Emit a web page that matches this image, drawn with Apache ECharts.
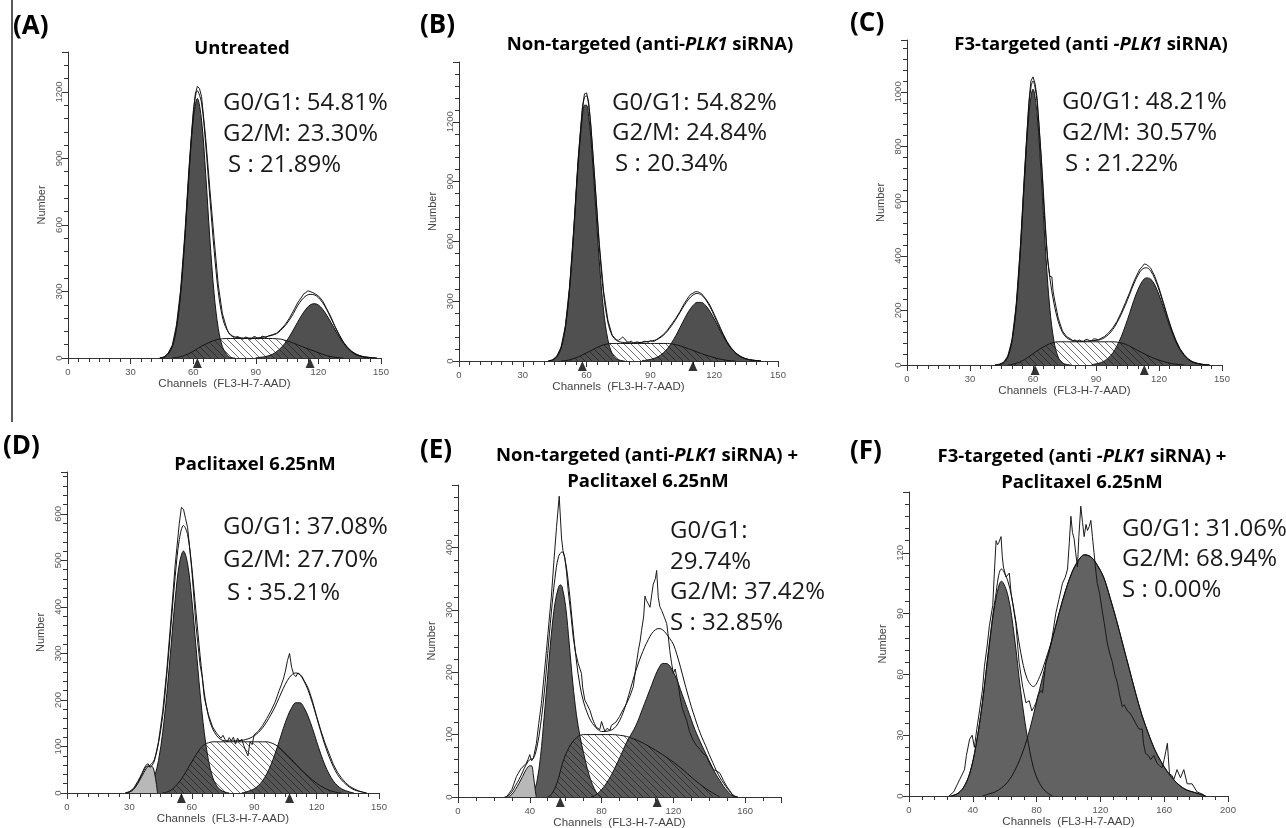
<!DOCTYPE html>
<html><head><meta charset="utf-8">
<script src="https://cdn.jsdelivr.net/npm/echarts@6/dist/echarts.min.js"></script>
<style>html,body{margin:0;padding:0;background:#fff}#c{width:1286px;height:828px}</style>
</head><body><div id="c"></div>
<script>
// ---------------- DATA (channel, count) ----------------
const A_g1 = [[44,0],[46,2],[48,17],[50,51],[52,134],[54,292],[56,536],[58,827],[60,1073],[62,1170],[64,1073],[66,827],[68,536],[70,292],[72,134],[74,51],[76,17],[78,2],[80,0]];
const A_g2 = [[90,1],[92,3],[94,5],[96,10],[98,17],[100,29],[102,45],[104,67],[106,95],[108,127],[110,161],[112,193],[114,220],[116,239],[118,245],[120,239],[122,220],[124,193],[126,161],[128,127],[130,95],[132,67],[134,45],[136,29],[138,17],[140,10],[142,5],[144,3],[146,1],[148,0]];
const A_s = [[50,0],[52,2],[54,6],[56,12],[58,20],[60,30],[62,42],[64,53],[66,63],[68,72],[70,79],[72,84],[74,87],[76,88],[80,88],[84,88],[88,88],[92,88],[96,88],[100,87],[102,85],[104,80],[106,74],[108,67],[110,60],[112,52],[114,45],[116,38],[118,31],[120,24],[122,17],[124,11],[126,6],[128,3],[130,1],[132,0]];
const A_fit = [[44,0],[46,5],[48,20],[50,55],[52,140],[54,300],[56,545],[58,840],[60,1090],[62,1205],[64,1150],[66,960],[68,720],[70,490],[72,300],[74,185],[76,130],[78,105],[80,95],[84,90],[88,90],[92,92],[96,98],[100,110],[102,125],[104,145],[106,170],[108,200],[110,235],[112,262],[114,280],[116,287],[118,285],[120,272],[122,250],[124,218],[126,180],[128,140],[130,102],[132,70],[134,45],[136,27],[138,15],[140,8],[142,4],[144,2],[146,0]];
const A_raw = [[44,0],[46,4],[48,22],[50,58],[52,150],[54,310],[56,560],[58,860],[60,1110],[61,1190],[62,1225],[63,1215],[64,1180],[66,990],[68,760],[70,540],[72,330],[74,200],[76,135],[77,112],[78,102],[79,96],[80,88],[81,97],[82,94],[83,88],[84,85],[85,95],[86,92],[87,84],[88,86],[89,97],[90,95],[91,86],[92,88],[93,99],[94,96],[95,92],[96,100],[98,105],[100,112],[102,130],[104,150],[106,178],[108,212],[110,248],[112,275],[113,290],[114,295],[115,303],[116,300],[117,296],[118,292],[120,280],[122,258],[124,222],[126,185],[128,142],[130,105],[132,72],[134,48],[136,30],[138,18],[140,10],[142,5],[144,3],[146,1],[148,0]];
const A_marks = [62, 116];
const A_stats = ['G0/G1: 54.81%', 'G2/M: 23.30%', 'S : 21.89%'];

const B_g1 = [[42,0],[44,5],[46,21],[48,65],[50,168],[52,361],[54,651],[56,978],[58,1226],[59,1283],[60,1283],[61,1226],[62,1120],[64,816],[66,496],[68,252],[70,107],[72,38],[74,11],[76,3],[78,0]];
const B_g2 = [[86,2],[88,4],[90,8],[92,14],[94,24],[96,40],[98,62],[100,92],[102,128],[104,169],[106,211],[108,249],[110,278],[112,294],[114,294],[116,278],[118,249],[120,211],[122,169],[124,128],[126,92],[128,62],[130,40],[132,24],[134,14],[136,8],[138,4],[140,2],[142,0]];
const B_s = [[48,0],[50,2],[52,6],[54,12],[56,20],[58,30],[60,41],[62,52],[64,63],[66,73],[68,81],[70,86],[72,88],[76,88],[80,88],[84,88],[88,88],[92,88],[96,88],[98,88],[100,86],[102,82],[104,76],[106,69],[108,61],[110,53],[112,45],[114,37],[116,30],[118,23],[120,17],[122,11],[124,7],[126,3],[128,1],[130,0]];
const B_fit = [[42,0],[44,5],[46,22],[48,67],[50,170],[52,367],[54,663],[56,998],[58,1256],[59,1322],[60,1330],[61,1280],[62,1172],[64,880],[66,570],[68,335],[70,195],[72,128],[74,103],[76,95],[78,92],[82,91],[86,94],[90,100],[92,104],[94,113],[96,128],[98,150],[100,178],[102,210],[104,245],[106,280],[108,310],[110,331],[112,339],[114,331],[116,308],[118,272],[120,228],[122,180],[124,135],[126,95],[128,63],[130,41],[132,25],[134,14],[136,8],[138,4],[140,2],[142,0]];
const B_raw = [[42,0],[44,6],[46,25],[48,70],[50,175],[52,375],[54,670],[56,1010],[58,1270],[59,1340],[60,1345],[61,1295],[62,1185],[64,890],[66,585],[68,350],[70,205],[72,130],[74,106],[75,104],[76,112],[77,120],[78,110],[79,96],[80,95],[81,100],[82,90],[83,94],[84,96],[85,91],[86,92],[87,99],[88,98],[89,94],[90,102],[91,98],[92,100],[93,108],[94,116],[96,132],[98,155],[100,185],[102,215],[104,250],[106,290],[108,322],[109,335],[110,340],[111,347],[112,348],[113,344],[114,338],[116,312],[118,280],[120,235],[122,188],[124,140],[126,98],[128,66],[130,42],[132,26],[134,15],[136,8],[138,4],[140,2],[142,0]];
const B_marks = [58, 110];
const B_stats = ['G0/G1: 54.82%', 'G2/M: 24.84%', 'S : 20.34%'];

const C_g1 = [[42,0],[44,2],[46,8],[48,29],[50,86],[52,208],[54,415],[56,681],[58,915],[60,1010],[62,915],[64,681],[66,415],[68,208],[70,86],[72,29],[74,8],[76,2],[78,0]];
const C_g2 = [[88,2],[90,4],[92,8],[94,15],[96,27],[98,44],[100,70],[102,103],[104,144],[106,189],[108,236],[110,276],[112,306],[114,319],[116,315],[118,293],[120,257],[122,213],[124,166],[126,123],[128,85],[130,56],[132,35],[134,20],[136,11],[138,6],[140,3],[142,1],[144,0]];
const C_s = [[48,0],[50,2],[52,6],[54,12],[56,20],[58,30],[60,41],[62,52],[64,62],[66,71],[68,78],[70,83],[72,85],[76,85],[80,85],[84,85],[88,85],[92,85],[96,85],[98,85],[100,84],[102,81],[104,76],[106,69],[108,61],[110,53],[112,45],[114,37],[116,30],[118,23],[120,18],[122,13],[124,9],[126,5],[128,3],[130,1],[132,0]];
const C_fit = [[42,0],[44,2],[46,9],[48,31],[50,90],[52,216],[54,428],[56,700],[58,945],[59,1015],[60,1040],[61,1015],[62,960],[64,740],[66,480],[68,320],[70,225],[72,160],[74,120],[76,100],[78,92],[80,88],[84,87],[88,89],[90,90],[92,93],[94,100],[96,112],[98,130],[100,155],[102,185],[104,220],[106,258],[108,297],[110,329],[112,351],[114,356],[116,345],[118,316],[120,275],[122,226],[124,175],[126,128],[128,88],[130,57],[132,36],[134,20],[136,11],[138,6],[140,3],[142,1],[144,0]];
const C_raw = [[42,0],[44,3],[46,10],[48,33],[50,92],[52,220],[54,435],[56,710],[58,960],[59,1040],[60,1055],[61,1030],[62,975],[64,755],[66,500],[67,380],[68,325],[69,322],[69.5,275],[70,250],[72,172],[74,125],[76,104],[78,95],[79,88],[80,92],[81,86],[82,92],[83,87],[84,86],[85,93],[86,94],[87,88],[88,90],[89,96],[90,95],[91,92],[92,96],[94,104],[96,118],[98,136],[100,160],[102,192],[104,228],[106,265],[108,305],[110,338],[111,352],[112,360],[113,370],[114,368],[115,362],[116,355],[118,325],[120,282],[122,232],[124,180],[126,132],[128,92],[130,60],[132,38],[134,22],[136,12],[138,7],[140,3],[142,1],[144,0]];
const C_marks = [61, 113];
const C_stats = ['G0/G1: 48.21%', 'G2/M: 30.57%', 'S : 21.22%'];

const D_deb = [[29,0],[30,2],[32,8],[34,20],[36,36],[38,52],[39,57],[40,58],[41,57],[42,45],[43,18],[43.5,0]];
const D_g1 = [[36,2],[38,6],[40,15],[42,34],[44,70],[46,130],[48,214],[50,315],[52,416],[54,492],[56,520],[58,492],[60,416],[62,315],[64,214],[66,130],[68,70],[70,34],[72,15],[74,6],[76,2],[78,0]];
const D_g2 = [[84,0],[86,2],[88,5],[90,9],[92,16],[94,26],[96,41],[98,60],[100,84],[102,111],[104,139],[106,164],[108,183],[110,194],[112,194],[114,183],[116,164],[118,139],[120,111],[122,84],[124,60],[126,41],[128,26],[130,16],[132,9],[134,5],[136,2],[138,0]];
const D_s = [[46,0],[48,2],[50,6],[52,14],[54,24],[56,37],[58,52],[60,67],[62,82],[64,95],[66,104],[68,108],[70,110],[74,110],[78,110],[82,110],[86,110],[90,110],[94,110],[96,110],[98,108],[100,104],[102,98],[104,90],[106,81],[108,72],[110,62],[112,53],[114,44],[116,36],[118,28],[120,21],[122,15],[124,10],[126,6],[128,3],[130,1],[132,0]];
const D_fit = [[28,0],[30,2],[32,8],[34,22],[36,40],[38,56],[40,60],[42,72],[44,108],[46,165],[48,255],[50,360],[52,465],[54,545],[56,575],[58,555],[60,485],[62,390],[64,295],[66,215],[68,165],[70,138],[72,123],[74,115],[76,112],[80,112],[84,113],[86,115],[88,118],[90,123],[92,130],[94,140],[96,153],[98,168],[100,185],[102,205],[104,225],[106,242],[108,254],[110,258],[112,254],[114,240],[116,220],[118,193],[120,163],[122,132],[124,103],[126,78],[128,57],[130,40],[132,28],[134,19],[136,12],[138,7],[140,4],[142,2],[144,0]];
const D_raw = [[28,0],[30,3],[32,10],[34,25],[35,33],[36,42],[37,52],[38,60],[39,63],[40,55],[41,60],[42,68],[44,110],[46,175],[48,265],[50,375],[52,490],[54,580],[55,614],[56,610],[57,590],[58,570],[60,480],[62,360],[64,275],[65,250],[66,205],[68,168],[70,142],[72,128],[74,118],[75,124],[76,115],[77,110],[78,119],[79,112],[80,120],[81,105],[82,118],[83,110],[84,116],[85,102],[86,90],[87,80],[88,110],[89,104],[90,125],[92,133],[94,145],[96,160],[98,176],[100,195],[102,220],[103,232],[104,245],[105,262],[106,285],[107,300],[108,270],[109,255],[110,250],[111,258],[112,255],[113,250],[114,242],[116,225],[118,198],[120,165],[122,135],[124,108],[126,85],[128,62],[130,45],[132,32],[134,22],[136,14],[138,9],[140,5],[142,2],[144,0]];
const D_marks = [55, 107];
const D_stats = ['G0/G1: 37.08%', 'G2/M: 27.70%', 'S : 35.21%'];

const E_deb = [[28,0],[30,4],[32,12],[34,22],[36,33],[38,44],[40,50],[41,50],[42,35],[43,12],[43.6,0]];
const E_g1 = [[42,5],[44,25],[46,65],[48,128],[50,195],[52,260],[54,310],[56,336],[57,340],[58,337],[60,305],[62,245],[64,182],[66,132],[68,97],[70,70],[72,46],[74,27],[76,13],[78,4],[80,0]];
const E_g2 = [[74,0],[76,2],[78,6],[80,12],[82,19],[84,28],[86,38],[88,50],[90,62],[92,75],[94,88],[96,98],[98,108],[100,120],[102,135],[104,150],[106,165],[108,180],[110,195],[112,207],[114,214],[116,214],[118,210],[120,200],[122,188],[124,172],[126,156],[128,140],[130,124],[132,108],[134,95],[136,82],[138,70],[140,58],[142,46],[144,35],[146,26],[148,17],[150,10],[152,4],[154,1],[156,0]];
const E_s = [[50,0],[52,4],[54,14],[56,30],[58,52],[60,68],[62,80],[64,89],[66,95],[68,99],[70,100],[74,100],[78,100],[82,100],[86,100],[90,99],[94,97],[98,93],[102,88],[106,82],[110,75],[114,68],[118,60],[120,56],[124,47],[128,37],[132,27],[136,18],[140,10],[144,3],[146,0]];
const E_fit = [[26,0],[28,2],[30,8],[32,18],[34,28],[36,40],[38,52],[40,60],[42,62],[44,80],[46,115],[48,165],[50,230],[52,295],[54,350],[56,385],[58,393],[60,375],[62,330],[64,272],[66,218],[68,178],[70,152],[72,135],[74,122],[76,114],[78,108],[80,105],[82,105],[84,106],[86,108],[88,113],[90,122],[92,135],[94,152],[96,172],[98,192],[100,210],[102,226],[104,240],[106,252],[108,262],[110,268],[112,270],[114,268],[116,262],[118,254],[120,245],[122,228],[124,208],[126,186],[128,165],[130,145],[132,127],[134,110],[136,95],[138,82],[140,68],[142,55],[144,42],[146,31],[148,22],[150,14],[152,7],[154,2],[156,0]];
const E_raw = [[27,0],[28,2],[30,12],[32.6,33],[35,45],[38,54],[39,60],[40,68],[41,58],[42,62],[43.7,86],[45,118],[46.5,150],[48,195],[49.3,235],[51,290],[52,320],[53.5,380],[54.9,432],[56.4,482],[57.7,415],[58.5,395],[59.5,384],[60.5,360],[61.4,331],[63,290],[64.2,256],[65.5,232],[67,214],[68,205],[68.8,198],[69.5,175],[70.7,155],[72,148],[73.5,139],[75,125],[76,118],[77,112],[78,115],[79,108],[80,121],[81,112],[81.9,105],[83,110],[84.7,107],[85.5,115],[86.5,113],[88,120],[90,129],[92,140],[94,150],[96,163],[97.7,177],[99,205],[100.5,235],[101.5,250],[102.3,267],[103.5,290],[104.2,322],[105,315],[106,310],[107,304],[108,325],[108.8,341],[110,350],[110.7,363],[111.6,320],[112.5,305],[113.5,299],[115,288],[116.3,278],[117,262],[118,235],[119,215],[120,198],[121,205],[121.9,203],[122.8,180],[123.7,161],[125,142],[127.4,123],[129,105],[131,91],[133,82],[135,76],[136.5,70],[138.6,65],[140,55],[142.3,44],[144,42],[146,38],[148,26],[149.8,17],[151.5,10],[153.5,1],[155,0]];
const E_marks = [57, 111];
const E_stats = ['G0/G1:', '29.74%', 'G2/M: 37.42%', 'S : 32.85%'];

const F_g1 = [[26,0],[30,1],[34,4],[38,11],[42,25],[46,46],[50,72],[54,95],[58,106],[62,99],[66,79],[70,52],[74,30],[78,14],[82,6],[86,2],[90,0]];
const F_g2 = [[46,0],[50,1],[54,2],[58,4],[62,7],[66,12],[70,19],[74,28],[78,40],[82,53],[86,66],[90,78],[94,90],[98,101],[102,110],[106,116],[110,119],[114,118],[118,114],[122,108],[126,98],[130,87],[134,75],[138,63],[142,51],[146,40],[150,31],[154,23],[158,17],[162,12],[166,8],[170,5],[174,3],[178,2],[182,1],[186,0]];
const F_fit = [[26,0],[30,1],[34,4],[38,11],[42,25],[46,46],[50,73],[54,97],[58,112],[62,106],[66,91],[70,71],[74,58],[78,54],[82,59],[86,68],[90,78],[94,90],[98,101],[102,110],[106,116],[110,119],[114,118],[118,114],[122,108],[126,98],[130,87],[134,75],[138,63],[142,51],[146,40],[150,31],[154,23],[158,17],[162,12],[166,8],[170,5],[174,3],[178,2],[182,1],[186,0]];
const F_raw = [[25,0],[28,2],[31.7,8],[34.8,13],[36,20],[38,28],[39.6,30],[41,24],[42.5,33],[44.2,42],[46,52],[47.3,64],[49,74],[50.4,84],[52.5,94],[53.5,110],[54.6,126],[55.5,124],[56.3,125],[57.7,128],[58.5,118],[59.2,113],[60.8,108],[62.9,110],[64,100],[65,95],[67,85],[69,66],[71.25,54],[73.3,46],[75.4,47],[77,42],[78.5,44],[79.6,46],[81,50],[82.7,52],[83.75,51],[85.8,66],[87.5,70],[89,75],[90.5,82],[92,90],[94,97],[96.25,105],[98,108],[99.4,112],[100.5,125],[101.5,138],[102.5,130],[103.5,127],[104.5,120],[105.6,113],[106.5,128],[107.7,143],[108.8,135],[109.8,128],[111,134],[111.9,131],[113,133],[114,136],[115,128],[116,120],[117,112],[118,105],[119.5,100],[121,92],[122.5,85],[124.4,75],[126,70],[127.5,66],[129,60],[130.6,56],[132,50],[133.75,44],[135,45],[136.9,42],[138.5,41],[140,39],[142,36],[144.2,33],[146.25,33],[147,26],[148.3,21],[150,20],[151.5,18],[153.5,20],[155.6,16],[157,15],[158.75,14],[160,18],[161,22],[162,26],[163.3,11],[165,10],[166,8],[168,13],[170.2,9],[172.3,13],[174.4,6],[177.5,6],[180.6,2],[183.75,1],[185.8,0]];
const F_marks = [];
const F_stats = ['G0/G1: 31.06%', 'G2/M: 68.94%', 'S : 0.00%'];

const letters = ['(A)', '(B)', '(C)', '(D)', '(E)', '(F)'];
const titles = [
  ['Untreated'],
  ['Non-targeted (anti-{i|PLK1} siRNA)'],
  ['F3-targeted (anti {i|-PLK1} siRNA)'],
  ['Paclitaxel 6.25nM'],
  ['Non-targeted (anti-{i|PLK1} siRNA) +', 'Paclitaxel 6.25nM'],
  ['F3-targeted (anti {i|-PLK1} siRNA) +', 'Paclitaxel 6.25nM']
];
const xMax = [150, 150, 150, 150, 180, 200];
const xInterval = [30, 30, 30, 30, 40, 40];
const yMax = [1380, 1500, 1190, 690, 500, 150];
const yInterval = [300, 300, 200, 100, 100, 30];
const xAxisName = 'Channels  (FL3-H-7-AAD)';
const yAxisName = 'Number';

const panels = [
  {g1:A_g1, g2:A_g2, s:A_s, fit:A_fit, raw:A_raw, deb:null, marks:A_marks, stats:A_stats},
  {g1:B_g1, g2:B_g2, s:B_s, fit:B_fit, raw:B_raw, deb:null, marks:B_marks, stats:B_stats},
  {g1:C_g1, g2:C_g2, s:C_s, fit:C_fit, raw:C_raw, deb:null, marks:C_marks, stats:C_stats},
  {g1:D_g1, g2:D_g2, s:D_s, fit:D_fit, raw:D_raw, deb:D_deb, marks:D_marks, stats:D_stats},
  {g1:E_g1, g2:E_g2, s:E_s, fit:E_fit, raw:E_raw, deb:E_deb, marks:E_marks, stats:E_stats},
  {g1:F_g1, g2:F_g2, s:null, fit:F_fit, raw:F_raw, deb:null, marks:F_marks, stats:F_stats}
];

// ---------------- LAYOUT ----------------
const layout = [
  {grid:[68,52,313,306],  letter:[13,27],  title:[[242,49]],             stats:[223,[103,134,165]], sInd:5, xMinor:6, fill:'#505050'},
  {grid:[459,62,319,299], letter:[420,26], title:[[650,45]],             stats:[612,[103,133,164]], sInd:3, xMinor:6, fill:'#505050'},
  {grid:[907,40,315,325], letter:[850,24], title:[[1091,45]],            stats:[1062,[102,133,164]], sInd:3, xMinor:6, fill:'#505050'},
  {grid:[67,472,312,321], letter:[3,447],  title:[[255,465]],            stats:[223,[527,560,593]], sInd:4, xMinor:6, fill:'#555555'},
  {grid:[458,485,323,312],letter:[420,451],title:[[647,456],[648,482]],  stats:[670,[531,562,592,623]], sInd:0, xMinor:4, fill:'#5a5a5a'},
  {grid:[909,492,319,304],letter:[850,452],title:[[1082,457],[1082,483]],stats:[1122,[529,559,590]], sInd:0, xMinor:5, fill:'#626262'}
];

// hatch pattern (transparent background, "\" lines)
const hc = document.createElement('canvas');
hc.width = 7; hc.height = 7;
const hx = hc.getContext('2d');
hx.strokeStyle = 'rgba(25,25,25,0.62)';
hx.lineWidth = 1;
hx.beginPath();
hx.moveTo(0,0); hx.lineTo(7,7);
hx.moveTo(-1,6); hx.lineTo(1,8);
hx.moveTo(6,-1); hx.lineTo(8,1);
hx.stroke();
const hatch = {image: hc, repeat: 'repeat'};

const grids = [], xAxes = [], yAxes = [], series = [], graphic = [];
const FONT = 'Open Sans, Noto Sans, sans-serif';
const AXFONT = 'Liberation Sans, Arial, sans-serif';

graphic.push({type:'line', shape:{x1:12, y1:0, x2:12, y2:422}, style:{stroke:'#222', lineWidth:1.5}, z:100});

panels.forEach((p, i) => {
  const L = layout[i];
  grids.push({left:L.grid[0], top:L.grid[1], width:L.grid[2], height:L.grid[3], containLabel:false, outerBoundsMode:'none'});
  xAxes.push({
    type:'value', gridIndex:i, min:0, max:xMax[i], interval:xInterval[i],
    name:xAxisName, nameLocation:'middle', nameGap:17,
    nameTextStyle:{fontSize:11.5, color:'#444', fontFamily:AXFONT},
    axisLine:{onZero:false, lineStyle:{color:'#333', width:1}},
    axisTick:{show:true, length:6, lineStyle:{color:'#333'}},
    minorTick:{show:true, splitNumber:L.xMinor, length:4, lineStyle:{color:'#333'}},
    axisLabel:{fontSize:9.5, color:'#555', margin:9, fontFamily:AXFONT, showMaxLabel: xMax[i] % xInterval[i] === 0,
      formatter: v => String(v)},
    splitLine:{show:false}, minorSplitLine:{show:false}
  });
  yAxes.push({
    type:'value', gridIndex:i, min:0, max:yMax[i], interval:yInterval[i],
    name:yAxisName, nameLocation:'middle', nameGap:21, nameRotate:90,
    nameTextStyle:{fontSize:11, color:'#444', fontFamily:AXFONT},
    axisLine:{show:true, onZero:false, lineStyle:{color:'#333', width:1}},
    axisTick:{show:true, length:6, lineStyle:{color:'#333'}},
    minorTick:{show:true, splitNumber:5, length:4, lineStyle:{color:'#333'}},
    axisLabel:{fontSize:9.5, color:'#555', rotate:90, margin:4, fontFamily:AXFONT, showMaxLabel:false,
      formatter: v => String(v)},
    splitLine:{show:false}, minorSplitLine:{show:false}
  });
  const base = {type:'line', xAxisIndex:i, yAxisIndex:i, symbol:'none', silent:true, animation:false};
  const area = (data, color, z) => Object.assign({}, base, {
    data, smooth:0.35, z,
    lineStyle:{color:'#151515', width:1},
    areaStyle:{color, opacity:1}
  });
  series.push(area(p.g1, L.fill, 2));
  series.push(area(p.g2, L.fill, 2));
  if (p.deb) series.push(area(p.deb, '#b8b8b8', 3));
  if (p.s) series.push(area(p.s, hatch, 4));
  series.push(Object.assign({}, base, {data:p.raw, smooth:false, z:5, lineStyle:{color:'#1a1a1a', width:1}}));
  series.push(Object.assign({}, base, {data:p.fit, smooth:0.35, z:5, lineStyle:{color:'#111', width:1}}));
  if (p.marks.length) {
    series.push({type:'scatter', xAxisIndex:i, yAxisIndex:i, silent:true, animation:false, clip:false, z:6,
      data:p.marks.map(m => [m, 0]), symbol:'triangle', symbolSize:[9,10], symbolOffset:[0,5],
      itemStyle:{color:'#000'}});
  }
  graphic.push({type:'text', x:L.letter[0], y:L.letter[1], z:100,
    style:{text:letters[i], fontSize:26, fontWeight:'bold', fontFamily:FONT, fill:'#000',
      align:'left', textAlign:'left', verticalAlign:'middle', textVerticalAlign:'middle'}});
  titles[i].forEach((t, k) => {
    graphic.push({type:'text', x:L.title[k][0], y:L.title[k][1], z:100,
      style:{text:t, fontSize:18.5, fontWeight:'bold', fontFamily:FONT, fill:'#000',
        align:'center', textAlign:'center', verticalAlign:'middle', textVerticalAlign:'middle',
        rich:{i:{fontSize:18.5, fontWeight:'bold', fontStyle:'italic', fontFamily:FONT, fill:'#000', color:'#000'}}}});
  });
  p.stats.forEach((t, k) => {
    const ind = (t.indexOf('S') === 0) ? L.sInd : 0;
    graphic.push({type:'text', x:L.stats[0] + ind, y:L.stats[1][k], z:100,
      style:{text:t, fontSize:24, fontFamily:FONT, fill:'#1a1a1a',
        align:'left', textAlign:'left', verticalAlign:'middle', textVerticalAlign:'middle'}});
  });
});

const chart = echarts.init(document.getElementById('c'), null, {renderer:'canvas'});
chart.setOption({
  animation:false,
  backgroundColor:'#fff',
  grid:grids, xAxis:xAxes, yAxis:yAxes, series, graphic
});
</script>
</body></html>
